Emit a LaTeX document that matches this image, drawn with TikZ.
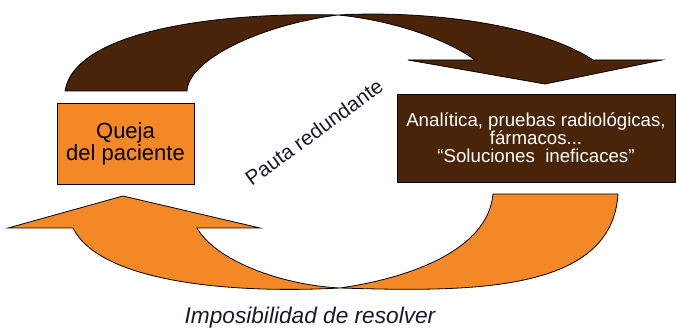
\documentclass[tikz,border=0pt]{standalone}
\usepackage{fontspec}
\setmainfont{Liberation Sans}
\usepackage{tikz}
\definecolor{naranja}{RGB}{242, 137, 38}
\definecolor{marron}{RGB}{74, 36, 8}
\definecolor{tinta}{RGB}{25, 25, 45}

\begin{document}
\begin{tikzpicture}[x=0.75pt, y=-0.75pt, line width=0.6pt,
    caja/.style={draw=black, inner sep=0pt, align=center}]
  \useasboundingbox (0, 0) rectangle (676, 331);

  % flecha superior
  \draw[fill=marron] (65, 91) .. controls (75, 30) and (220, 12) .. (338, 15)
    .. controls (390, 20) and (445, 38) .. (475, 60) -- (408, 60) -- (545, 84)
    -- (662, 60) -- (593, 60)
    .. controls (540, 25) and (430, 10) .. (338, 15)
    .. controls (260, 25) and (188, 60) .. (187, 91) -- cycle;

  % flecha inferior
  \draw[fill=naranja] (618, 194) .. controls (612, 293) and (470, 292) .. (340, 288)
    .. controls (230, 294) and (100, 282) .. (73, 228) -- (8, 228) -- (123, 196)
    -- (260, 228) -- (197, 228)
    .. controls (215, 260) and (280, 285) .. (340, 288)
    .. controls (410, 278) and (488, 250) .. (493, 194) -- cycle;

  \node[caja, fill=naranja, minimum width=102.75pt, minimum height=60.75pt,
    font=\fontsize{16.5}{15}\selectfont] (queja) at (125.5, 143.5) {Queja\\del paciente};
  \node[caja, fill=marron, text=white, minimum width=208.5pt, minimum height=66pt,
    font=\fontsize{14}{13.5}\selectfont] (soluciones) at (536, 138)
    {Analítica, pruebas radiológicas,\\fármacos...\\“Soluciones\ \ ineficaces”};

  \node[rotate=36, text=tinta, font=\fontsize{15.5}{15.5}\selectfont] (pauta)
    at (314, 132) {Pauta redundante};
  \node[text=tinta, font=\fontsize{17}{17}\selectfont\itshape] (imposibilidad)
    at (310, 318) {Imposibilidad de resolver};
\end{tikzpicture}
\end{document}
